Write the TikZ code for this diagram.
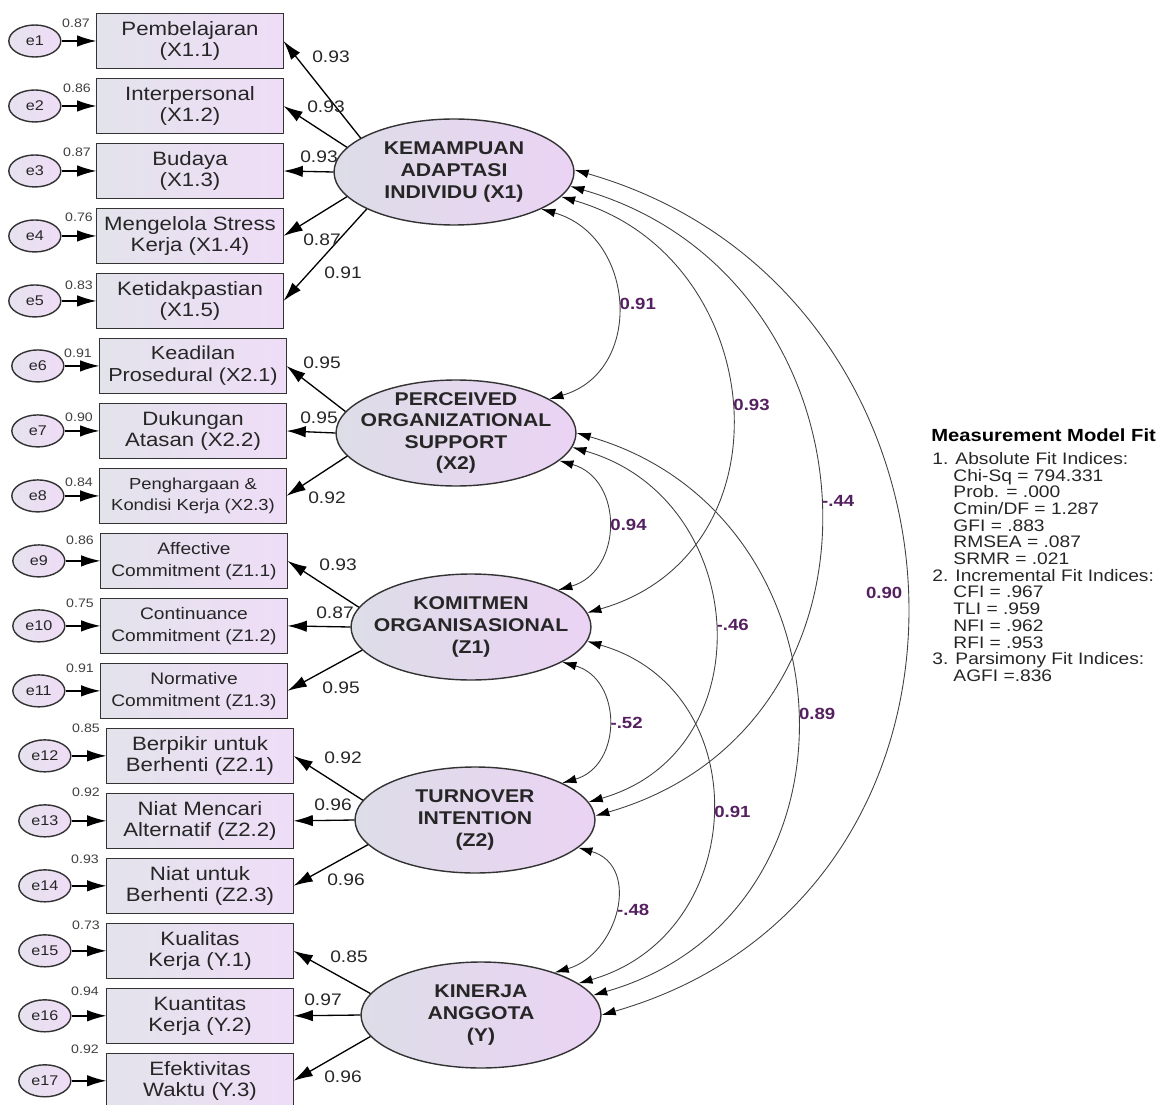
\documentclass[tikz,border=0pt]{standalone}
\usepackage{fontspec}
\setmainfont{Liberation Sans}[FakeStretch=1.15]
\usetikzlibrary{arrows.meta,shapes.geometric,positioning}

\definecolor{boxL}{HTML}{E3E3EB}
\definecolor{boxR}{HTML}{EFDDF7}
\definecolor{ovalL}{HTML}{DDDDE7}
\definecolor{ovalR}{HTML}{EBD3F4}
\definecolor{errL}{HTML}{E6E2EE}
\definecolor{errR}{HTML}{EFDCF6}
\definecolor{corrtxt}{HTML}{55205F}

\begin{document}
\begin{tikzpicture}[
        x=0.02cm, y=-0.02cm,
        every node/.style={text=black!85},
        indicator/.style={draw=black!80, line width=0.8pt, outer sep=0pt, left color=boxL, right color=boxR, minimum width=3.74cm, minimum height=1.1cm, inner sep=0.5pt, align=center, font=\fontsize{11}{12.3}\selectfont},
        latent/.style={ellipse, draw=black!80, line width=0.8pt, left color=ovalL, right color=ovalR, minimum width=4.8cm, minimum height=2.12cm, inner sep=0pt},
        latenttext/.style={align=center, font=\fontsize{10.5}{12.3}\selectfont\bfseries},
        errnode/.style={ellipse, draw=black!80, line width=0.8pt, left color=errL, right color=errR, minimum width=1.04cm, minimum height=0.64cm, inner sep=0pt, font=\fontsize{8}{8}\selectfont},
        errarrow/.style={-{Latex[length=11pt,width=6.5pt]}, line width=0.8pt},
        load/.style={-{Latex[length=11pt,width=6.5pt]}, line width=0.75pt},
        corr/.style={{Latex[length=8pt,width=5pt,color=black]}-{Latex[length=8pt,width=5pt,color=black]}, draw=black!75, line width=0.5pt, out=-16, in=16, looseness=1.33},
        weight/.style={font=\fontsize{9.5}{10}\selectfont, inner sep=0pt},
        errweight/.style={font=\fontsize{7}{7}\selectfont, inner sep=0pt, text=black!75},
        corrlabel/.style={font=\fontsize{9.2}{10}\selectfont\bfseries, text=corrtxt, inner sep=1.5pt}
    ]
    \useasboundingbox (0,0) rectangle (1168,1104);

    % Indicators
    \node (b1) [indicator] at (190,41) {Pembelajaran\\(X1.1)};
    \node (b2) [indicator, below=0.2cm of b1] {Interpersonal\\(X1.2)};
    \node (b3) [indicator, below=0.2cm of b2] {Budaya\\(X1.3)};
    \node (b4) [indicator, below=0.2cm of b3] {Mengelola Stress\\Kerja (X1.4)};
    \node (b5) [indicator, below=0.2cm of b4] {Ketidakpastian\\(X1.5)};
    \node (b6) [indicator, below=0.2cm of b5, xshift=0.06cm, font=\fontsize{10.7}{12.3}\selectfont] {Keadilan\\Prosedural (X2.1)};
    \node (b7) [indicator, below=0.2cm of b6] {Dukungan\\Atasan (X2.2)};
    \node (b8) [indicator, below=0.2cm of b7, font=\fontsize{9.1}{12.3}\selectfont] {Penghargaan \&\\Kondisi Kerja (X2.3)};
    \node (b9) [indicator, below=0.2cm of b8, xshift=0.02cm, font=\fontsize{9.5}{12.3}\selectfont] {Affective\\Commitment (Z1.1)};
    \node (b10) [indicator, below=0.2cm of b9, font=\fontsize{9.5}{12.3}\selectfont] {Continuance\\Commitment (Z1.2)};
    \node (b11) [indicator, below=0.2cm of b10, font=\fontsize{9.5}{12.3}\selectfont] {Normative\\Commitment (Z1.3)};
    \node (b12) [indicator, below=0.2cm of b11, xshift=0.12cm] {Berpikir untuk\\Berhenti (Z2.1)};
    \node (b13) [indicator, below=0.2cm of b12] {Niat Mencari\\Alternatif (Z2.2)};
    \node (b14) [indicator, below=0.2cm of b13] {Niat untuk\\Berhenti (Z2.3)};
    \node (b15) [indicator, below=0.2cm of b14] {Kualitas\\Kerja (Y.1)};
    \node (b16) [indicator, below=0.2cm of b15] {Kuantitas\\Kerja (Y.2)};
    \node (b17) [indicator, below=0.2cm of b16] {Efektivitas\\Waktu (Y.3)};

    % Errors
    \node (e1) [errnode, left=0.7cm of b1] {e1};
    \node (e2) [errnode, left=0.7cm of b2] {e2};
    \node (e3) [errnode, left=0.7cm of b3] {e3};
    \node (e4) [errnode, left=0.7cm of b4] {e4};
    \node (e5) [errnode, left=0.7cm of b5] {e5};
    \node (e6) [errnode, left=0.7cm of b6] {e6};
    \node (e7) [errnode, left=0.7cm of b7] {e7};
    \node (e8) [errnode, left=0.7cm of b8] {e8};
    \node (e9) [errnode, left=0.7cm of b9] {e9};
    \node (e10) [errnode, left=0.7cm of b10] {e10};
    \node (e11) [errnode, left=0.7cm of b11] {e11};
    \node (e12) [errnode, left=0.7cm of b12] {e12};
    \node (e13) [errnode, left=0.7cm of b13] {e13};
    \node (e14) [errnode, left=0.7cm of b14] {e14};
    \node (e15) [errnode, left=0.7cm of b15] {e15};
    \node (e16) [errnode, left=0.7cm of b16] {e16};
    \node (e17) [errnode, left=0.7cm of b17] {e17};

    % Latent variables
    \node (X1) [latent, label={[latenttext]center:{KEMAMPUAN\\ADAPTASI\\INDIVIDU (X1)}}] at (454,172) {};
    \node (X2) [latent, label={[latenttext]center:{PERCEIVED\\ORGANIZATIONAL\\SUPPORT\\(X2)}}] at (456,433) {};
    \node (Z1) [latent, label={[latenttext]center:{KOMITMEN\\ORGANISASIONAL\\(Z1)}}] at (471,627) {};
    \node (Z2) [latent, label={[latenttext]center:{TURNOVER\\INTENTION\\(Z2)}}] at (475,820) {};
    \node (Y) [latent, label={[latenttext]center:{KINERJA\\ANGGOTA\\(Y)}}] at (481,1015) {};

    % Error edges
    \draw[errarrow] (e1) -- (b1);
    \draw[errarrow] (e2) -- (b2);
    \draw[errarrow] (e3) -- (b3);
    \draw[errarrow] (e4) -- (b4);
    \draw[errarrow] (e5) -- (b5);
    \draw[errarrow] (e6) -- (b6);
    \draw[errarrow] (e7) -- (b7);
    \draw[errarrow] (e8) -- (b8);
    \draw[errarrow] (e9) -- (b9);
    \draw[errarrow] (e10) -- (b10);
    \draw[errarrow] (e11) -- (b11);
    \draw[errarrow] (e12) -- (b12);
    \draw[errarrow] (e13) -- (b13);
    \draw[errarrow] (e14) -- (b14);
    \draw[errarrow] (e15) -- (b15);
    \draw[errarrow] (e16) -- (b16);
    \draw[errarrow] (e17) -- (b17);

    % Loadings
    \draw[load] (X1.160) -- (b1.east);
    \draw[load] (X1.167) -- (b2.east);
    \draw[load] (X1.180) -- (b3.east);
    \draw[load] (X1.193) -- (b4.east);
    \draw[load] (X1.203) -- (b5.east);
    \draw[load] (X2.169) -- (b6.east);
    \draw[load] (X2.180) -- (b7.east);
    \draw[load] (X2.192) -- (b8.east);
    \draw[load] (Z1.170) -- (b9.east);
    \draw[load] (Z1.180) -- (b10.east);
    \draw[load] (Z1.192) -- (b11.east);
    \draw[load] (Z2.170) -- (b12.east);
    \draw[load] (Z2.180) -- (b13.east);
    \draw[load] (Z2.193) -- (b14.east);
    \draw[load] (Y.169) -- (b15.east);
    \draw[load] (Y.180) -- (b16.east);
    \draw[load] (Y.191) -- (b17.east);

    % Loading weights
    \node (w1) [weight] at (331,57) {0.93};
    \node (w2) [weight] at (326,107) {0.93};
    \node (w3) [weight] at (319,157) {0.93};
    \node (w4) [weight] at (322,240) {0.87};
    \node (w5) [weight] at (343,273) {0.91};
    \node (w6) [weight] at (322,363) {0.95};
    \node (w7) [weight] at (319,418) {0.95};
    \node (w8) [weight] at (327,498) {0.92};
    \node (w9) [weight] at (338,565) {0.93};
    \node (w10) [weight] at (335,613) {0.87};
    \node (w11) [weight] at (341,688) {0.95};
    \node (w12) [weight] at (343,758) {0.92};
    \node (w13) [weight] at (333,805) {0.96};
    \node (w14) [weight] at (346,880) {0.96};
    \node (w15) [weight] at (349,957) {0.85};
    \node (w16) [weight] at (323,1000) {0.97};
    \node (w17) [weight] at (343,1077) {0.96};

    % Squared multiple correlations
    \node (r1) [errweight] at (76,23) {0.87};
    \node (r2) [errweight] at (77,88) {0.86};
    \node (r3) [errweight] at (77,152) {0.87};
    \node (r4) [errweight] at (79,217) {0.76};
    \node (r5) [errweight] at (79,285) {0.83};
    \node (r6) [errweight] at (78,353) {0.91};
    \node (r7) [errweight] at (79,417) {0.90};
    \node (r8) [errweight] at (79,482) {0.84};
    \node (r9) [errweight] at (80,540) {0.86};
    \node (r10) [errweight] at (80,603) {0.75};
    \node (r11) [errweight] at (80,668) {0.91};
    \node (r12) [errweight] at (86,728) {0.85};
    \node (r13) [errweight] at (86,792) {0.92};
    \node (r14) [errweight] at (85,859) {0.93};
    \node (r15) [errweight] at (86,925) {0.73};
    \node (r16) [errweight] at (85,991) {0.94};
    \node (r17) [errweight] at (85,1049) {0.92};

    % Correlations
    \draw[corr] (X1.-23) to node (c1) [corrlabel, right] {0.91} (X2.20);
    \draw[corr] (X1.-13) to node (c2) [corrlabel, right] {0.93} (Z1.7);
    \draw[corr] (X1.-7) to node (c3) [corrlabel, right] {-.44} (Z2.2);
    \draw[corr] (X1.1) to node (c4) [corrlabel, left] {0.90} (Y.0);
    \draw[corr] (X2.-15) to node (c5) [corrlabel, right] {0.94} (Z1.23);
    \draw[corr] (X2.-7) to node (c6) [corrlabel, right] {-.46} (Z2.9);
    \draw[corr] (X2.0) to node (c7) [corrlabel, right] {0.89} (Y.10);
    \draw[corr] (Z1.-21) to node (c8) [corrlabel, right] {-.52} (Z2.23);
    \draw[corr] (Z1.-7) to node (c9) [corrlabel, right] {0.91} (Y.18);
    \draw[corr] (Z2.-15) to node (c10) [corrlabel, right] {-.48} (Y.30);

    % Fit box
    \node (fit) [anchor=west, inner sep=0pt, font=\fontsize{10}{10}\selectfont\bfseries, text=black] at (931,435) {Measurement Model Fit};
    \node (fitlist) [anchor=north west, inner sep=0pt, align=left, font=\fontsize{9.5}{9.5}\selectfont, text=black!85] at (932,452) {1. Absolute Fit Indices:\\
        \hspace*{12pt}Chi-Sq = 794.331\\
        \hspace*{12pt}Prob. = .000\\
        \hspace*{12pt}Cmin/DF = 1.287\\
        \hspace*{12pt}GFI = .883\\
        \hspace*{12pt}RMSEA = .087\\
        \hspace*{12pt}SRMR = .021\\
        2. Incremental Fit Indices:\\
        \hspace*{12pt}CFI = .967\\
        \hspace*{12pt}TLI = .959\\
        \hspace*{12pt}NFI = .962\\
        \hspace*{12pt}RFI = .953\\
        3. Parsimony Fit Indices:\\
        \hspace*{12pt}AGFI =.836};

\end{tikzpicture}
\end{document}
